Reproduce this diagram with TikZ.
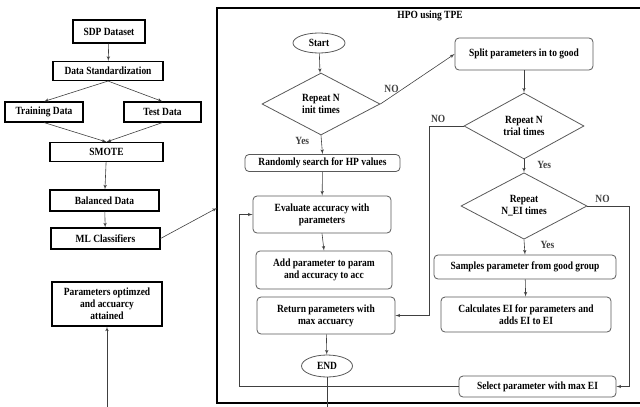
\documentclass[tikz,border=0pt]{standalone}
\usepackage{fontspec}
\setmainfont[FakeStretch=0.86]{Liberation Serif}
\usepackage{xcolor}
\usepackage{tikz}
\usetikzlibrary{shapes.geometric, arrows, positioning}

\begin{document}
\begin{tikzpicture}[x=1pt, y=-1pt, font=\fontsize{11}{12.2}\selectfont\bfseries]
\tikzstyle{block} = [rectangle, draw, line width=1.1pt, text centered, inner sep=1pt]
\tikzstyle{rblock} = [rectangle, draw=black!65, line width=0.8pt, rounded corners=4pt, text centered, inner sep=1pt]
\tikzstyle{decision} = [diamond, draw=black!65, line width=0.8pt, text centered, inner sep=0pt, align=center]
\tikzstyle{term} = [ellipse, draw=black!65, line width=0.8pt, inner sep=0pt]
\tikzstyle{line} = [draw, black!75, line width=0.6pt, -latex']
\tikzstyle{lbl} = [inner sep=1pt]
\useasboundingbox (0,0) rectangle (640,407);

% left column
\node [block, minimum width=72pt, minimum height=23pt] (sdp) at (109,31.5) {SDP Dataset};
\node [block, minimum width=110pt, minimum height=19pt] (std) at (108,71) {Data Standardization};
\node [block, minimum width=78pt, minimum height=20pt] (train) at (44,112) {Training Data};
\node [block, minimum width=77pt, minimum height=20pt] (test) at (162.5,112) {Test Data};
\node [block, minimum width=113pt, minimum height=19pt] (smote) at (106.5,152) {SMOTE};
\node [block, minimum width=109pt, minimum height=21pt] (bal) at (104.5,200.5) {Balanced Data};
\node [block, minimum width=109pt, minimum height=21pt] (ml) at (105.5,238.5) {ML Classifiers};
\node [block, minimum width=110pt, minimum height=44pt, align=center] (opt) at (107,304) {Parameters optimzed\\and accuarcy\\attained};
\coordinate (optin) at (107,407);

% HPO frame
\draw [line width=1.6pt] (217,8) rectangle (646,403);
\node (title) at (430,16) {HPO using TPE};
\coordinate (hpoin) at (217,208);
\coordinate (endout) at (327,407);

% HPO steps
\node [term, minimum width=52pt, minimum height=20pt] (start) at (319,43) {Start};
\node [decision, minimum width=118pt, minimum height=62pt] (rinit) at (321,104) {Repeat N\\init times};
\node [rblock, minimum width=155pt, minimum height=17pt] (rand) at (322.5,163) {Randomly search for HP values};
\node [rblock, minimum width=138pt, minimum height=37pt, align=center] (eval) at (322,214.5) {Evaluate accuracy with\\parameters};
\node [rblock, minimum width=136pt, minimum height=38pt, align=center] (add) at (324,270) {Add parameter to param\\and accuracy to acc};
\node [rblock, minimum width=138pt, minimum height=37pt, align=center] (ret) at (326,315.5) {Return parameters with\\max accuarcy};
\node [term, minimum width=51pt, minimum height=22pt] (end) at (327,366) {END};

\node [rblock, minimum width=138pt, minimum height=32pt] (split) at (524,54) {Split parameters in to good};
\node [decision, minimum width=120pt, minimum height=66pt] (rtrial) at (524,126) {Repeat N\\trial times};
\node [decision, minimum width=126pt, minimum height=66pt] (rei) at (524,206) {Repeat\\N\_EI times};
\node [rblock, minimum width=182pt, minimum height=24pt] (samp) at (525,267) {Samples parameter from good group};
\node [rblock, minimum width=170pt, minimum height=35pt, align=center] (calc) at (526,314.5) {Calculates EI for parameters and\\adds EI to EI};
\node [rblock, minimum width=157pt, minimum height=21pt] (sel) at (537.5,386.5) {Select parameter with max EI};

% left column arrows
\path [line] (sdp) -- (std);
\path [line] (std.south) -- (train.north);
\path [line] (std.south) -- (test.north);
\path [line] (train.south) -- (smote.north);
\path [line] (test.south) -- (smote.north);
\path [line] (smote) -- (bal);
\path [line] (bal) -- (ml);
\path [line] (ml.east) -- (hpoin);
\path [line] (optin) -- (opt.south);

% HPO arrows
\path [line] (start) -- (rinit);
\path [line] (rinit.south) -- node[lbl, pos=0.3, left=11pt] {Yes} (rand.north);
\path [line] (rinit.east) -- node[lbl, pos=0.15, above=3pt] {NO} (split.west);
\path [line] (rand) -- (eval);
\path [line] (eval.south) -- (add.north);
\path [line] (ret) -- (end);
\draw [black!75, line width=0.6pt] (end) -- (endout);
\path [line] (split) -- (rtrial);
\path [line] (rtrial.west) -- node[lbl, pos=0.75, above=2pt] {NO} ++(-34,0) |- (ret.east);
\path [line] (rtrial.south) -- node[lbl, pos=0.45, right=12pt] {Yes} (rei.north);
\path [line] (rei.south) -- node[lbl, pos=0.35, right=15pt] {Yes} (samp.north);
\path [line] (rei.east) -- node[lbl, pos=0.36, above=2pt] {NO} ++(42,0) |- (sel.east);
\path [line] (samp) -- (calc);
\path [line] (sel.west) -- ++(-219,0) |- (eval.west);
\end{tikzpicture}
\end{document}
